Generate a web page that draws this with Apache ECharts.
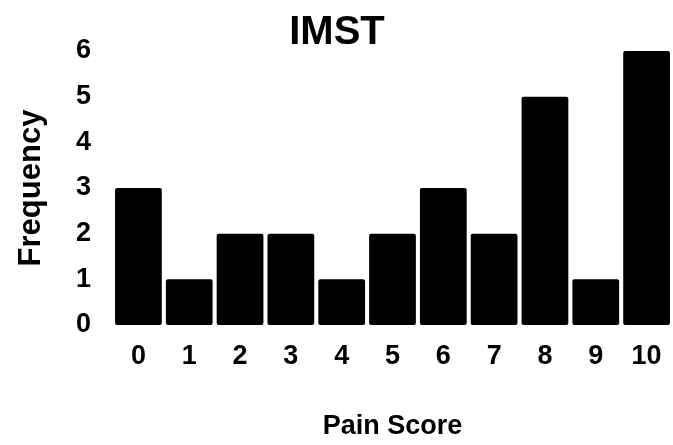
<!DOCTYPE html>
<html>
<head>
<meta charset="utf-8">
<script src="https://cdn.jsdelivr.net/npm/echarts@6/dist/echarts.min.js"></script>
<style>html,body{margin:0;padding:0;background:#fff}#c{width:673px;height:445px}</style>
</head>
<body>
<div id="c"></div>
<script>
var categories = ['0','1','2','3','4','5','6','7','8','9','10'];
var frequency = [3,1,2,2,1,2,3,2,5,1,6];
var yTicks = [0,1,2,3,4,5,6];

var chart = echarts.init(document.getElementById('c'));
var font = 'Liberation Sans, Arial, sans-serif';
chart.setOption({
  animation: false,
  title: {
    text: 'IMST', left: 332, top: 8, textAlign: 'center',
    textStyle: {fontFamily: font, fontWeight: 'bold', fontSize: 40, color: '#000'}
  },
  grid: {left: 113, right: 1, top: 51, bottom: 113, containLabel: false},
  xAxis: {
    type: 'category', data: categories,
    axisLine: {show: false}, axisTick: {show: false},
    axisLabel: {margin: 18, fontFamily: font, fontWeight: 'bold', fontSize: 27, color: '#000'},
    name: 'Pain Score', nameLocation: 'middle', nameGap: 88,
    nameTextStyle: {fontFamily: font, fontWeight: 'bold', fontSize: 27, color: '#000'}
  },
  yAxis: {
    type: 'value', min: yTicks[0], max: yTicks[yTicks.length-1], interval: 1,
    axisLine: {show: false}, axisTick: {show: false}, splitLine: {show: false},
    axisLabel: {margin: 22, fontFamily: font, fontWeight: 'bold', fontSize: 27, color: '#000'},
    name: 'Frequency', nameLocation: 'middle', nameGap: 66,
    nameTextStyle: {fontFamily: font, fontWeight: 'bold', fontSize: 31, color: '#000'}
  },
  series: [{
    type: 'bar', data: frequency, barCategoryGap: '8%',
    itemStyle: {color: '#000', borderRadius: 2}
  }]
});
</script>
</body>
</html>
